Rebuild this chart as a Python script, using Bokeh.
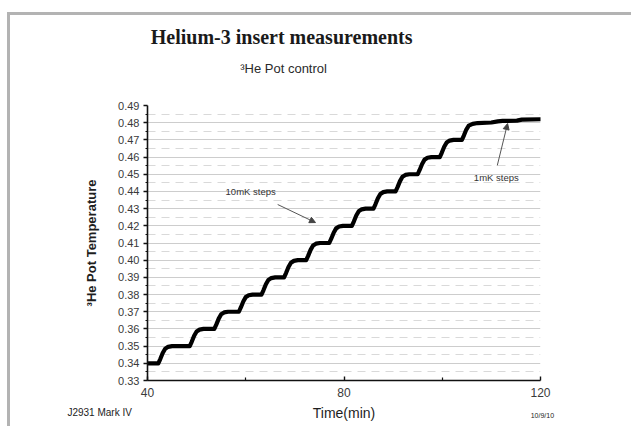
from bokeh.plotting import figure
from bokeh.models import (Label, Arrow, NormalHead, FixedTicker, Range1d,
                          PrintfTickFormatter)
from bokeh.embed import file_html
from bokeh.resources import INLINE

# ---- data ----
time_min = [
    40.0, 42.2, 42.6, 43.1, 43.6, 44.2, 45.0,
    48.6, 49.0, 49.5, 50.0, 50.6, 51.4,
    53.6, 54.0, 54.5, 55.0, 55.6, 56.4,
    58.6, 59.0, 59.5, 60.0, 60.6, 61.4,
    63.2, 63.6, 64.1, 64.6, 65.2, 66.0,
    67.8, 68.2, 68.7, 69.2, 69.8, 70.6,
    72.3, 72.7, 73.2, 73.7, 74.3, 75.1,
    77.0, 77.4, 77.9, 78.4, 79.0, 79.8,
    81.6, 82.0, 82.5, 83.0, 83.6, 84.4,
    86.0, 86.4, 86.9, 87.4, 88.0, 88.8,
    90.5, 90.9, 91.4, 91.9, 92.5, 93.3,
    95.0, 95.4, 95.9, 96.4, 97.0, 97.8,
    99.5, 99.9, 100.4, 100.9, 101.5, 102.3,
    104.0, 104.4, 104.9, 105.4, 106.2, 107.2,
    110.0, 111.3, 112.3, 115.2, 116.2, 120.0,
]
temperature = [
    0.3400, 0.3400, 0.3425, 0.3460, 0.3485, 0.3496, 0.3500,
    0.3500, 0.3525, 0.3560, 0.3585, 0.3596, 0.3600,
    0.3600, 0.3625, 0.3660, 0.3685, 0.3696, 0.3700,
    0.3700, 0.3725, 0.3760, 0.3785, 0.3796, 0.3800,
    0.3800, 0.3825, 0.3860, 0.3885, 0.3896, 0.3900,
    0.3900, 0.3925, 0.3960, 0.3985, 0.3996, 0.4000,
    0.4000, 0.4025, 0.4060, 0.4085, 0.4096, 0.4100,
    0.4100, 0.4125, 0.4160, 0.4185, 0.4196, 0.4200,
    0.4200, 0.4225, 0.4260, 0.4285, 0.4296, 0.4300,
    0.4300, 0.4325, 0.4360, 0.4385, 0.4396, 0.4400,
    0.4400, 0.4425, 0.4460, 0.4485, 0.4496, 0.4500,
    0.4500, 0.4525, 0.4560, 0.4585, 0.4596, 0.4600,
    0.4600, 0.4625, 0.4660, 0.4685, 0.4696, 0.4700,
    0.4700, 0.4725, 0.4760, 0.4783, 0.4793, 0.4798,
    0.4801, 0.4808, 0.4810, 0.4812, 0.4818, 0.4820,
]

x_ticks = [40, 80, 120]
x_minor_ticks = [60, 100]
y_ticks = [0.33, 0.34, 0.35, 0.36, 0.37, 0.38, 0.39, 0.40, 0.41,
           0.42, 0.43, 0.44, 0.45, 0.46, 0.47, 0.48, 0.49]
y_minor_ticks = [0.335, 0.345, 0.355, 0.365, 0.375, 0.385, 0.395, 0.405,
                 0.415, 0.425, 0.435, 0.445, 0.455, 0.465, 0.475, 0.485]

title_text = "Helium-3 insert measurements"
subtitle_text = "\u00b3He Pot control"
x_title = "Time(min)"
y_title = "\u00b3He Pot Temperature"
footer_left = "J2931 Mark IV"
footer_right = "10/9/10"

note_texts = ["10mK steps", "1mK steps"]
note_x = [61.0, 111.0]
note_y = [0.4400, 0.4480]
arrow_x_start = [66.5, 111.2]
arrow_y_start = [0.4324, 0.4551]
arrow_x_end = [74.2, 113.3]
arrow_y_end = [0.4219, 0.4795]

SANS = "Liberation Sans"
SERIF = "Liberation Serif"

p = figure(width=631, height=426,
           x_range=Range1d(40, 120), y_range=Range1d(0.33, 0.49),
           output_backend="svg", toolbar_location=None,
           min_border_left=147, min_border_right=91,
           min_border_top=105, min_border_bottom=46)
p.border_fill_color = None
p.background_fill_color = "white"
p.outline_line_color = None
# outer grey picture frame (top and left edges visible in the window)
p.styles = {
    "background": "linear-gradient(#b3b3b3,#b3b3b3) 7px 12px / 100% 3px no-repeat, "
                  "linear-gradient(#b3b3b3,#b3b3b3) 7px 12px / 3px 100% no-repeat, #ffffff"
}

# axes
xt = FixedTicker(ticks=x_ticks, minor_ticks=x_minor_ticks)
yt = FixedTicker(ticks=y_ticks, minor_ticks=y_minor_ticks)
p.xaxis.ticker = xt
p.yaxis.ticker = yt
p.ygrid.ticker = yt
p.xgrid.visible = False
p.ygrid.grid_line_color = "#cdcdcd"
p.ygrid.grid_line_width = 1
p.ygrid.minor_grid_line_color = "#d9d9d9"
p.ygrid.minor_grid_line_dash = "8 6"

for ax in (p.xaxis, p.yaxis):
    ax.axis_line_color = "#111111"
    ax.axis_line_width = 1.6
    ax.major_tick_line_color = "#111111"
    ax.minor_tick_line_color = "#111111"
    ax.major_tick_line_width = 1.4
    ax.minor_tick_line_width = 1.2
    ax.major_label_text_font = SANS
    ax.major_label_text_color = "#3a3a3a"
    ax.axis_label_text_font = SANS
    ax.axis_label_text_color = "#1e1e1e"

p.xaxis.major_tick_in = 4
p.xaxis.major_tick_out = 0
p.xaxis.minor_tick_in = 3
p.xaxis.minor_tick_out = 0
p.xaxis.major_label_text_font_size = "12px"
p.xaxis.major_label_standoff = 7
p.xaxis.axis_label = x_title
p.xaxis.axis_label_text_font_size = "14px"
p.xaxis.axis_label_text_font_style = "normal"
p.xaxis.axis_label_standoff = 5

p.yaxis.major_tick_in = 0
p.yaxis.major_tick_out = 4
p.yaxis.minor_tick_in = 0
p.yaxis.minor_tick_out = 2
p.yaxis.formatter = PrintfTickFormatter(format="%.2f")
p.yaxis.major_label_text_font_size = "11px"
p.yaxis.major_label_standoff = 4
p.yaxis.axis_label = y_title
p.yaxis.axis_label_text_font_size = "13px"
p.yaxis.axis_label_text_font_style = "bold"
p.yaxis.axis_label_standoff = 16

# data line
p.line(time_min, temperature, line_width=4.2, line_color="black",
       line_join="round", line_cap="round")

# annotations inside the plot
for t, x, y in zip(note_texts, note_x, note_y):
    p.add_layout(Label(x=x, y=y, text=t, text_font=SANS, text_font_size="9.5px",
                       text_color="#333333", text_align="center",
                       text_baseline="middle"))
for xs, ys, xe, ye in zip(arrow_x_start, arrow_y_start, arrow_x_end, arrow_y_end):
    p.add_layout(Arrow(end=NormalHead(size=6, fill_color="#444444", line_color="#444444"),
                       x_start=xs, y_start=ys, x_end=xe, y_end=ye,
                       line_color="#555555", line_width=1))

# titles and footers, held in the top side panel so they are not clipped
p.add_layout(Label(x=67.3, y=0.5301, text=title_text, text_font=SERIF,
                   text_font_size="20px", text_font_style="bold",
                   text_color="#1a1a1a", text_align="center", text_baseline="middle"),
             "above")
p.add_layout(Label(x=67.7, y=0.5115, text=subtitle_text, text_font=SANS,
                   text_font_size="13px", text_color="#2a2a2a",
                   text_align="center", text_baseline="middle"),
             "above")
p.add_layout(Label(x=23.7, y=0.3114, text=footer_left, text_font=SANS,
                   text_font_size="10px", text_color="#222222",
                   text_align="left", text_baseline="middle"),
             "above")
p.add_layout(Label(x=118.0, y=0.3096, text=footer_right, text_font=SANS,
                   text_font_size="7px", text_color="#222222",
                   text_align="left", text_baseline="middle"),
             "above")

open("out.html", "w").write(file_html(p, INLINE))
